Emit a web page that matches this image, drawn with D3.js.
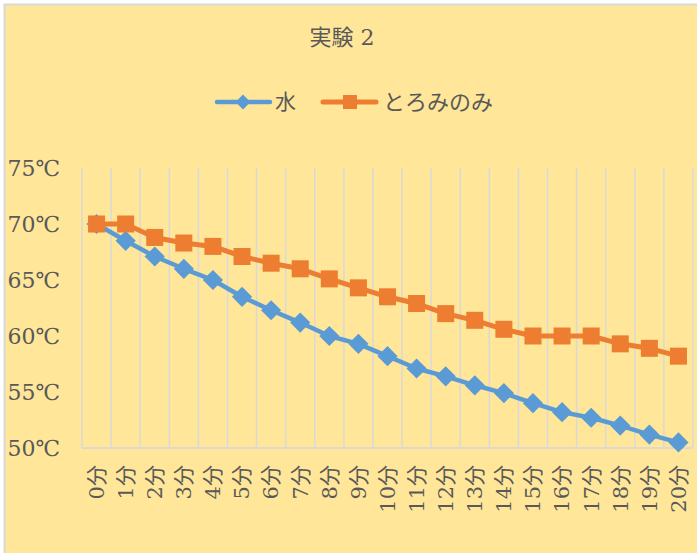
<!DOCTYPE html>
<html>
<head>
<meta charset="utf-8">
<script src="https://cdn.jsdelivr.net/npm/d3@7"></script>
<style>
  html, body { margin: 0; padding: 0; background: #ffffff; }
  svg { display: block; }
</style>
</head>
<body>
<svg id="chart" width="697" height="553"></svg>
<script>
// 経過時間(分)
const minutes = ["0分","1分","2分","3分","4分","5分","6分","7分","8分","9分","10分",
  "11分","12分","13分","14分","15分","16分","17分","18分","19分","20分"];
// 水の温度(℃)
const water = [70, 68.5, 67.1, 66.0, 65.0, 63.5, 62.3, 61.2, 60.0, 59.3, 58.2,
  57.1, 56.4, 55.6, 54.9, 54.0, 53.2, 52.7, 52.0, 51.2, 50.5];
// とろみのみの温度(℃)
const thick = [70, 70, 68.8, 68.3, 68.0, 67.1, 66.5, 66.0, 65.1, 64.3, 63.5,
  62.9, 62.0, 61.4, 60.6, 60.0, 60.0, 60.0, 59.3, 58.9, 58.2];
const yTicks = [50, 55, 60, 65, 70, 75];
const seriesNames = ["水", "とろみのみ"];
const title = "実験 2";

const textColor = "#595959";
const gridColor = "#D9D9D9";
const blue = "#5B9BD5";
const orange = "#ED7D31";
const serif = "'DejaVu Serif', 'Noto Sans CJK JP', serif";
const cjk = "'Noto Sans CJK JP', sans-serif";

const svg = d3.select("#chart");

// chart background and border
svg.append("rect")
  .attr("x", 4.5).attr("y", 4.5)
  .attr("width", 700).attr("height", 560)
  .attr("fill", "#FFE699")
  .attr("stroke", gridColor).attr("stroke-width", 2);

const x = d3.scaleBand().domain(minutes).range([82, 693]);
const y = d3.scaleLinear().domain([50, 75]).range([448, 168]);

// vertical gridlines at category boundaries
const bounds = minutes.map(m => x(m)).concat([x.range()[1]]);
svg.append("g").selectAll("line").data(bounds).join("line")
  .attr("x1", d => d).attr("x2", d => d)
  .attr("y1", y(75)).attr("y2", y(50))
  .attr("stroke", gridColor).attr("stroke-width", 1.5);

// horizontal axis line
svg.append("line")
  .attr("x1", x.range()[0]).attr("x2", x.range()[1])
  .attr("y1", y(50)).attr("y2", y(50))
  .attr("stroke", gridColor).attr("stroke-width", 2);

// y axis labels
const yAxis = d3.axisLeft(y).tickValues(yTicks).tickFormat(d => d + "℃").tickSize(0).tickPadding(0);
const yg = svg.append("g").attr("transform", "translate(60,0)").call(yAxis);
yg.select(".domain").remove();
yg.selectAll("text")
  .attr("fill", textColor)
  .style("font-family", serif)
  .style("font-size", "22px")
  .attr("dy", "0.35em");

// x axis labels (rotated)
const xAxis = d3.axisBottom(x).tickSize(0).tickPadding(0);
const xg = svg.append("g").attr("transform", "translate(0,465)").call(xAxis);
xg.select(".domain").remove();
xg.selectAll("text")
  .attr("fill", textColor)
  .style("font-family", serif)
  .style("font-size", "21px")
  .attr("transform", "rotate(-90)")
  .attr("text-anchor", "end")
  .attr("x", 0).attr("y", 0)
  .attr("dy", "0.35em");

// lines
const line = d3.line().x((d, i) => x(minutes[i]) + x.bandwidth() / 2).y(d => y(d));

svg.append("path").datum(water)
  .attr("d", line).attr("fill", "none")
  .attr("stroke", blue).attr("stroke-width", 4.5).attr("stroke-linejoin", "round");
svg.append("g").selectAll("path").data(water).join("path")
  .attr("d", d3.symbol(d3.symbolDiamond2, 260)())
  .attr("transform", (d, i) => `translate(${x(minutes[i]) + x.bandwidth() / 2},${y(d)})`)
  .attr("fill", blue);

svg.append("path").datum(thick)
  .attr("d", line).attr("fill", "none")
  .attr("stroke", orange).attr("stroke-width", 5).attr("stroke-linejoin", "round");
svg.append("g").selectAll("rect").data(thick).join("rect")
  .attr("x", (d, i) => x(minutes[i]) + x.bandwidth() / 2 - 8.5)
  .attr("y", d => y(d) - 8.5)
  .attr("width", 17).attr("height", 17)
  .attr("fill", orange);

// title
svg.append("text")
  .attr("x", 342).attr("y", 45)
  .attr("text-anchor", "middle")
  .attr("fill", textColor)
  .style("font-family", serif)
  .style("font-size", "22px")
  .text(title);

// legend
const lg = svg.append("g");
lg.append("line").attr("x1", 217).attr("x2", 270).attr("y1", 102).attr("y2", 102)
  .attr("stroke", blue).attr("stroke-width", 4.5).attr("stroke-linecap", "round");
lg.append("path").attr("d", d3.symbol(d3.symbolDiamond2, 140)())
  .attr("transform", "translate(243,102)").attr("fill", blue);
lg.append("text").attr("x", 275).attr("y", 102).attr("dy", "0.35em")
  .attr("fill", textColor).style("font-family", cjk).style("font-size", "21px")
  .text(seriesNames[0]);

lg.append("line").attr("x1", 323).attr("x2", 376).attr("y1", 102).attr("y2", 102)
  .attr("stroke", orange).attr("stroke-width", 5).attr("stroke-linecap", "round");
lg.append("rect").attr("x", 343).attr("y", 95).attr("width", 14).attr("height", 14)
  .attr("fill", orange);
lg.append("text").attr("x", 383).attr("y", 102).attr("dy", "0.35em")
  .attr("fill", textColor).style("font-family", cjk).style("font-size", "22px")
  .text(seriesNames[1]);
</script>
</body>
</html>
